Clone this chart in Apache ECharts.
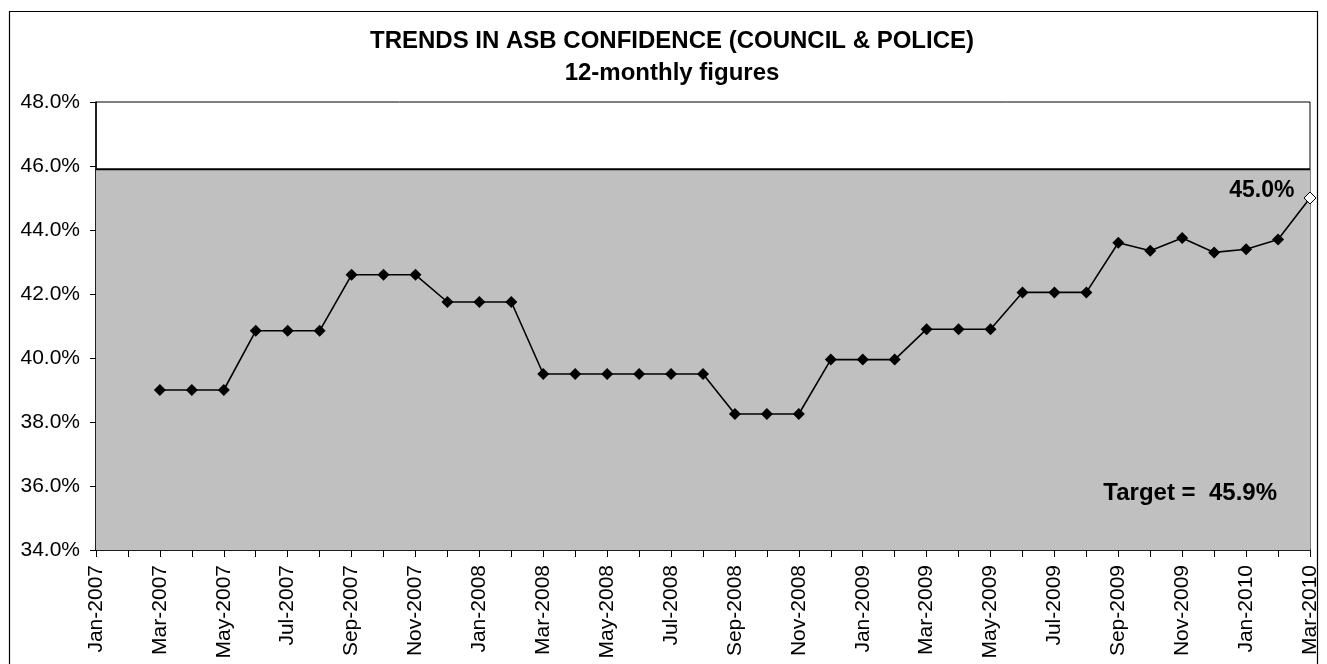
<!DOCTYPE html>
<html>
<head>
<meta charset="utf-8">
<script src="https://cdn.jsdelivr.net/npm/echarts@6/dist/echarts.min.js"></script>
<style>html,body{margin:0;padding:0;background:#fff}#c{width:1327px;height:664px}</style>
</head>
<body>
<div id="c"></div>
<script>
const categories = ["Jan-2007","Feb-2007","Mar-2007","Apr-2007","May-2007","Jun-2007","Jul-2007","Aug-2007","Sep-2007","Oct-2007","Nov-2007","Dec-2007",
"Jan-2008","Feb-2008","Mar-2008","Apr-2008","May-2008","Jun-2008","Jul-2008","Aug-2008","Sep-2008","Oct-2008","Nov-2008","Dec-2008",
"Jan-2009","Feb-2009","Mar-2009","Apr-2009","May-2009","Jun-2009","Jul-2009","Aug-2009","Sep-2009","Oct-2009","Nov-2009","Dec-2009",
"Jan-2010","Feb-2010","Mar-2010"];
const confidence = [null,null,39.0,39.0,39.0,40.85,40.85,40.85,42.6,42.6,42.6,41.75,
41.75,41.75,39.5,39.5,39.5,39.5,39.5,39.5,38.25,38.25,38.25,39.95,
39.95,39.95,40.9,40.9,40.9,42.05,42.05,42.05,43.6,43.35,43.75,43.3,
43.4,43.7,45.0];
const target = 45.9;
const targetSeries = categories.map(() => target);
const yTicks = {min:34, max:48, interval:2};
const titleLines = ["TRENDS IN ASB CONFIDENCE (COUNCIL & POLICE)", "12-monthly figures"];

const last = confidence.length - 1;
const lineData = confidence.map((v,i) => i === last ? {
  value: v, symbol: 'diamond', symbolSize: 12,
  itemStyle: {color:'#fff', borderColor:'#000', borderWidth:1},
  label: {show:true, position:'left', distance:9, offset:[0,-7], formatter: p => p.value.toFixed(1)+'%',
    fontFamily:'Liberation Sans', fontWeight:'bold', fontSize:23, color:'#000'}
} : v);

const chart = echarts.init(document.getElementById('c'));
chart.setOption({
  animation:false,
  backgroundColor:'#fff',
  graphic:[
    {type:'rect', shape:{x:9.5, y:11.5, width:1308, height:700}, style:{fill:null, stroke:'#000', lineWidth:1.2}, silent:true},
    {type:'text', x:672, y:41, style:{text:titleLines[0], font:'bold 24px "Liberation Sans"', fill:'#000', textAlign:'center', textVerticalAlign:'middle'}},
    {type:'text', x:672, y:73.5, style:{text:titleLines[1], font:'bold 24px "Liberation Sans"', fill:'#000', textAlign:'center', textVerticalAlign:'middle'}},
    {type:'text', x:1277, y:493, style:{text:'Target =  '+target.toFixed(1)+'%', font:'bold 24px "Liberation Sans"', fill:'#000', textAlign:'right', textVerticalAlign:'middle'}, z:100}
  ],
  grid:{left:96, right:17, top:102, bottom:114, show:true, borderColor:'#000', borderWidth:1, backgroundColor:'#fff'},
  xAxis:{
    type:'category', data:categories, boundaryGap:false,
    axisLine:{lineStyle:{color:'#000', width:1.5}},
    axisTick:{interval:0, length:7, lineStyle:{color:'#000'}},
    axisLabel:{interval:1, rotate:90, color:'#000', fontFamily:'Liberation Sans', fontSize:21, margin:15},
    splitLine:{show:false}
  },
  yAxis:{
    type:'value', min:yTicks.min, max:yTicks.max, interval:yTicks.interval,
    axisLine:{show:true, lineStyle:{color:'#000', width:1.5}},
    axisTick:{show:true, length:6, lineStyle:{color:'#000'}},
    axisLabel:{color:'#000', fontFamily:'Liberation Sans', fontSize:21, margin:16, formatter: v => v.toFixed(1)+'%'},
    splitLine:{show:false}
  },
  series:[
    {type:'line', data:targetSeries, symbol:'none', silent:true, z:1,
     lineStyle:{color:'#000', width:2}, areaStyle:{color:'#C0C0C0', opacity:1, origin:'start'}},
    {type:'line', data:lineData, symbol:'diamond', symbolSize:12, z:5,
     itemStyle:{color:'#000'}, lineStyle:{color:'#000', width:1.6}}
  ]
});
</script>
</body>
</html>
